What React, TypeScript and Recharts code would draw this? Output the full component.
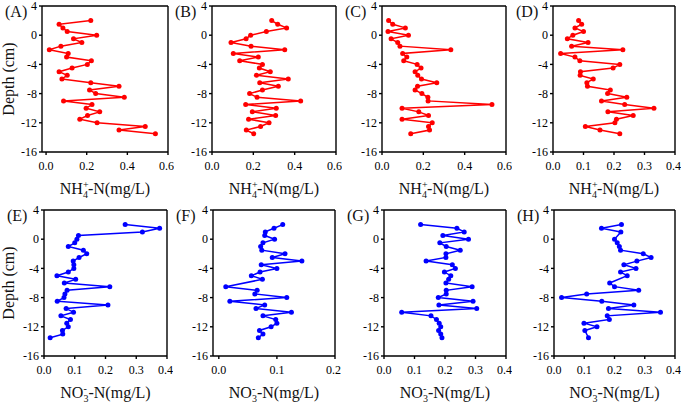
import React from "react";
import {
  ScatterChart,
  Scatter,
  XAxis,
  YAxis,
  ReferenceLine,
} from "recharts";

const FONT = '"Liberation Serif", "Times New Roman", serif';

// sampling depths (cm), shared by every profile
const depths = [
  2, 1.5, 1, 0.5, 0, -0.5, -1, -1.5, -2, -2.5, -3, -3.5, -4, -4.5, -5, -5.5,
  -6, -6.5, -7, -7.5, -8, -8.5, -9, -9.5, -10, -10.5, -11, -11.5, -12, -12.5,
  -13, -13.5,
];

// NH4+-N (mg/L)
const nh4A = [
  0.22, 0.064, 0.083, 0.104, 0.249, 0.135, 0.176, 0.073, 0.016, 0.109, 0.101,
  0.223, 0.203, 0.128, 0.064, 0.104, 0.078, 0.22, 0.359, 0.214, 0.244, 0.385,
  0.086, 0.226, 0.197, 0.264, 0.204, 0.166, 0.251, 0.488, 0.359, 0.538,
];
const nh4B = [
  0.289, 0.318, 0.361, 0.263, 0.187, 0.165, 0.092, 0.189, 0.352, 0.103, 0.224,
  0.134, 0.244, 0.229, 0.282, 0.215, 0.369, 0.231, 0.321, 0.244, 0.182, 0.218,
  0.429, 0.163, 0.311, 0.195, 0.308, 0.177, 0.276, 0.235, 0.166, 0.202,
];
const nh4C = [
  0.032, 0.052, 0.113, 0.029, 0.128, 0.044, 0.076, 0.087, 0.333, 0.1, 0.12,
  0.105, 0.17, 0.189, 0.16, 0.173, 0.191, 0.265, 0.172, 0.16, 0.193, 0.222,
  0.223, 0.532, 0.097, 0.178, 0.225, 0.097, 0.243, 0.225, 0.23, 0.139,
];
const nh4D = [
  0.084, 0.094, 0.072, 0.1, 0.065, 0.047, 0.115, 0.061, 0.229, 0.025, 0.072,
  0.088, 0.219, 0.197, 0.09, 0.089, 0.132, 0.111, 0.113, 0.188, 0.179, 0.242,
  0.159, 0.235, 0.331, 0.18, 0.263, 0.208, 0.203, 0.106, 0.154, 0.219,
];

// NO3--N (mg/L), null = no sample
const no3E = [
  0.264, 0.376, 0.32, 0.112, 0.107, 0.1, 0.079, 0.128, 0.139, 0.114, 0.095,
  0.097, 0.097, 0.079, 0.042, 0.103, 0.066, 0.214, 0.075, 0.068, 0.065, 0.043,
  0.208, 0.072, 0.096, 0.055, 0.086, 0.074, 0.079, 0.06, 0.061, 0.02,
];
const no3F = [
  0.11, 0.095, 0.08, 0.079, 0.096, 0.076, 0.072, 0.074, 0.114, 0.092, 0.143,
  0.073, 0.1, 0.071, 0.056, 0.075, null, 0.012, 0.066, 0.062, 0.117, 0.019,
  0.079, 0.064, 0.125, 0.076, 0.098, 0.1, 0.09, 0.07, 0.076, 0.068,
];
const no3G = [
  0.12, 0.239, 0.263, 0.193, 0.277, 0.183, 0.204, 0.25, 0.203, 0.203, 0.138,
  0.224, 0.234, 0.198, 0.219, 0.212, 0.203, 0.289, 0.204, 0.204, 0.178, 0.292,
  0.18, 0.304, 0.058, 0.154, 0.172, 0.181, 0.186, 0.179, 0.186, 0.19,
];
const no3H = [
  0.223, 0.157, 0.221, null, 0.2, 0.209, 0.216, 0.22, 0.295, 0.321, 0.274,
  0.231, 0.271, 0.22, 0.242, null, 0.184, 0.2, 0.28, 0.108, 0.025, 0.158,
  0.264, 0.18, 0.352, 0.176, 0.183, 0.099, 0.142, 0.102, null, 0.114,
];

const depthTicks = [-16, -12, -8, -4, 0, 4];
const ticks06 = [0, 0.2, 0.4, 0.6];
const ticks04 = [0, 0.1, 0.2, 0.3, 0.4];
const ticks02 = [0, 0.1, 0.2];

const RED = "#ff0000";
const BLUE = "#0000ff";

const panels = [
  { tag: "(A)", vals: nh4A, left: 42, top: 6, w: 126, domain: [-0.02, 0.6], ticks: ticks06, color: RED, ion: "nh4", depthLabel: true },
  { tag: "(B)", vals: nh4B, left: 212, top: 6, w: 124, domain: [0, 0.6], ticks: ticks06, color: RED, ion: "nh4" },
  { tag: "(C)", vals: nh4C, left: 382, top: 6, w: 124, domain: [0, 0.6], ticks: ticks06, color: RED, ion: "nh4" },
  { tag: "(D)", vals: nh4D, left: 553, top: 6, w: 122, domain: [0, 0.4], ticks: ticks04, color: RED, ion: "nh4" },
  { tag: "(E)", vals: no3E, left: 44, top: 210, w: 123, domain: [0, 0.4], ticks: ticks04, color: BLUE, ion: "no3", depthLabel: true },
  { tag: "(F)", vals: no3F, left: 213, top: 210, w: 122, domain: [-0.01, 0.2], ticks: ticks02, color: BLUE, ion: "no3" },
  { tag: "(G)", vals: no3G, left: 384, top: 210, w: 122, domain: [0, 0.4], ticks: ticks04, color: BLUE, ion: "no3" },
  { tag: "(H)", vals: no3H, left: 554, top: 210, w: 121, domain: [0, 0.4], ticks: ticks04, color: BLUE, ion: "no3" },
];

const PLOT_H = 146;
const AXIS_W = 40;
const TOP_PAD = 8;
const BOTTOM_PAD = 30;
const RIGHT_PAD = 6;
const FRAME = 1.4;

function Profile({ p }: { p: (typeof panels)[number] }) {
  const data = depths
    .map((d, i) => ({ depth: d, v: p.vals[i] }))
    .filter((pt) => pt.v !== null);
  const tickStyle = { fontSize: 12, fill: "#000", fontFamily: FONT };

  return (
    <div style={{ position: "absolute", left: p.left - AXIS_W, top: p.top - TOP_PAD }}>
      <ScatterChart
        width={AXIS_W + p.w + RIGHT_PAD}
        height={TOP_PAD + PLOT_H + BOTTOM_PAD}
        margin={{ top: TOP_PAD, right: RIGHT_PAD, bottom: 0, left: 0 }}
      >
        <XAxis
          type="number"
          dataKey="v"
          domain={p.domain}
          ticks={p.ticks}
          allowDataOverflow
          height={BOTTOM_PAD}
          tickFormatter={(t: number) => t.toFixed(1)}
          tick={tickStyle}
          tickSize={3}
          tickMargin={6}
          axisLine={{ stroke: "#000", strokeWidth: FRAME }}
          tickLine={{ stroke: "#000", strokeWidth: FRAME }}
        />
        <YAxis
          type="number"
          dataKey="depth"
          domain={[-16, 4]}
          ticks={depthTicks}
          allowDataOverflow
          width={AXIS_W}
          tick={tickStyle}
          tickSize={3}
          tickMargin={2}
          axisLine={{ stroke: "#000", strokeWidth: FRAME }}
          tickLine={{ stroke: "#000", strokeWidth: FRAME }}
        />
        <ReferenceLine y={4} stroke="#000" strokeWidth={FRAME} />
        <ReferenceLine x={p.domain[1]} stroke="#000" strokeWidth={FRAME} />
        <Scatter
          data={data}
          fill={p.color}
          line={{ stroke: p.color, strokeWidth: 1.5 }}
          shape={(s: any) => <circle cx={s.cx} cy={s.cy} r={2.5} fill={p.color} />}
          isAnimationActive={false}
        />
      </ScatterChart>
    </div>
  );
}

function AxisTitle({ cx, y, ion }: { cx: number; y: number; ion: string }) {
  if (ion === "nh4") {
    return (
      <text x={cx} y={y} textAnchor="middle" fontSize={16} fontFamily={FONT} fill="#111">
        NH
        <tspan fontSize={10} dy={-6}>+</tspan>
        <tspan fontSize={10} dx={-5.6} dy={10}>4</tspan>
        <tspan dy={-4}>-N(mg/L)</tspan>
      </text>
    );
  }
  return (
    <text x={cx} y={y} textAnchor="middle" fontSize={16} fontFamily={FONT} fill="#111">
      NO
      <tspan fontSize={10} dy={-6}>-</tspan>
      <tspan fontSize={10} dx={-3.3} dy={10}>3</tspan>
      <tspan dy={-4}>-N(mg/L)</tspan>
    </text>
  );
}

export default function App() {
  return (
    <div
      style={{
        position: "absolute",
        left: 0,
        top: 0,
        width: 685,
        height: 403,
        background: "#fff",
        overflow: "hidden",
      }}
    >
      {panels.map((p) => (
        <Profile key={p.tag} p={p} />
      ))}
      <svg
        width={685}
        height={403}
        style={{ position: "absolute", left: 0, top: 0, pointerEvents: "none" }}
      >
        {panels.map((p) => (
          <g key={p.tag}>
            <text x={p.left - 37} y={p.top + 11} fontSize={16} fontFamily={FONT} fill="#111">
              {p.tag}
            </text>
            <AxisTitle cx={p.left + p.w / 2} y={p.top + PLOT_H + 42} ion={p.ion} />
            {p.depthLabel && (
              <text
                x={14}
                y={p.top + PLOT_H / 2}
                transform={`rotate(-90 14 ${p.top + PLOT_H / 2})`}
                textAnchor="middle"
                fontSize={16}
                fontFamily={FONT}
                fill="#111"
              >
                Depth (cm)
              </text>
            )}
          </g>
        ))}
      </svg>
    </div>
  );
}
